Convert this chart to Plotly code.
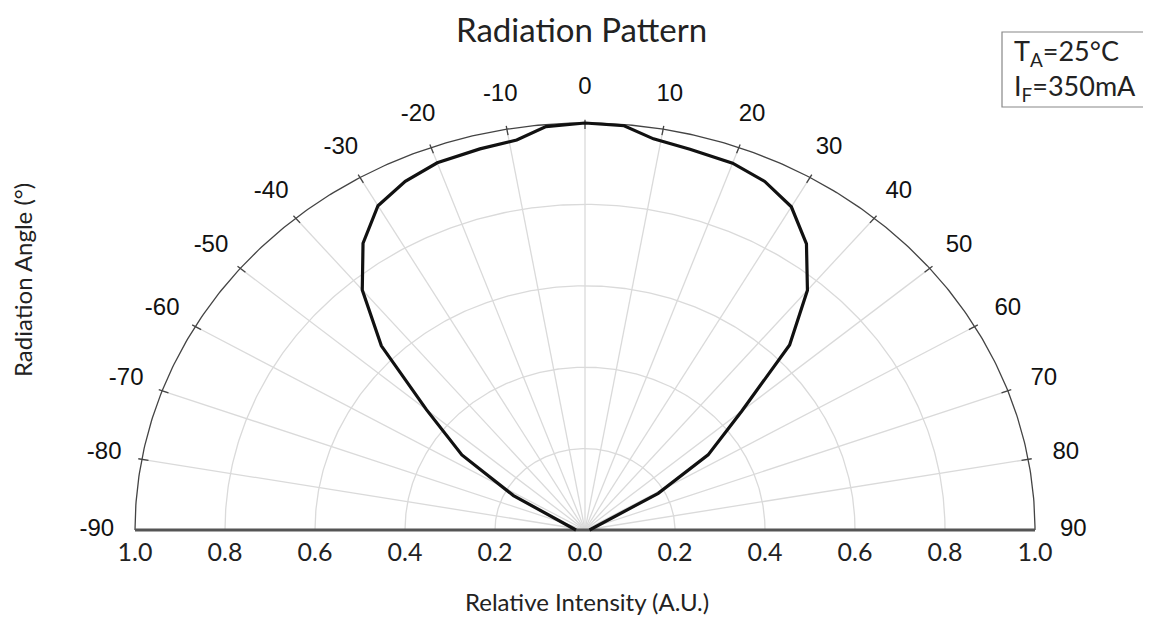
import numpy as np
import plotly.graph_objects as go

# ---------------- data ----------------
angles_deg = [-90, -62, -56, -50, -45, -40, -35, -30, -25, -20, -14, -9, -5, 0,
              5, 9, 14, 20, 25, 30, 35, 40, 45, 50, 56, 61, 90]
intensity = [0.02, 0.18, 0.33, 0.46, 0.64, 0.77, 0.86, 0.92, 0.945, 0.96, 0.965, 0.97, 0.995, 1.0,
             0.997, 0.973, 0.964, 0.959, 0.945, 0.917, 0.858, 0.769, 0.643, 0.455, 0.33, 0.186, 0.01]

angle_ticks = list(range(-90, 91, 10))
angle_tick_text = [str(a) for a in angle_ticks]
radial_grid = [0.2, 0.4, 0.6, 0.8]
x_tick_vals = [-1.0, -0.8, -0.6, -0.4, -0.2, 0.0, 0.2, 0.4, 0.6, 0.8, 1.0]
x_tick_text = ["1.0", "0.8", "0.6", "0.4", "0.2", "0.0", "0.2", "0.4", "0.6", "0.8", "1.0"]

title_text = "Radiation Pattern"
x_title = "Relative Intensity (A.U.)"
y_title = "Radiation Angle (°)"
cond_text = "T<sub>A</sub>=25°C<br>I<sub>F</sub>=350mA"

# ---------------- helpers ----------------
def pol(r, deg):
    t = np.radians(np.asarray(deg, dtype=float))
    r = np.asarray(r, dtype=float)
    return r * np.sin(t), r * np.cos(t)

OFF = 8  # page body margin
W, H = 1151 - OFF, 617 - OFF
cx, cy, rx, ry = 585.0 - OFF, 530.0 - OFF, 450.0, 407.0


def px(X):
    return (X - OFF) / W


def py(Y):
    return 1 - (Y - OFF) / H


fig = go.Figure()

GEO = "'Lato', 'Open Sans', sans-serif"
ARIAL = "'Liberation Sans', Arial, sans-serif"

# grid spokes
sx, sy = [], []
for a in range(-80, 81, 10):
    x, y = pol([0, 1], [a, a])
    sx += list(x) + [None]
    sy += list(y) + [None]
fig.add_trace(go.Scatter(x=sx, y=sy, mode="lines", line=dict(color="#dadada", width=1.3),
                         hoverinfo="skip", showlegend=False))

# grid arcs
arc_deg = np.linspace(-90, 90, 361)
gx, gy = [], []
for r in radial_grid:
    x, y = pol(np.full(arc_deg.size, r), arc_deg)
    gx += list(x) + [None]
    gy += list(y) + [None]
fig.add_trace(go.Scatter(x=gx, y=gy, mode="lines", line=dict(color="#dadada", width=1.3),
                         hoverinfo="skip", showlegend=False))

# outer arc
ox, oy = pol(np.ones(arc_deg.size), arc_deg)
fig.add_trace(go.Scatter(x=ox, y=oy, mode="lines", line=dict(color="#444444", width=1.3),
                         hoverinfo="skip", showlegend=False))

# ticks on outer arc
tx, ty = [], []
for a in range(-80, 81, 10):
    x, y = pol([0.985, 1.008], [a, a])
    tx += list(x) + [None]
    ty += list(y) + [None]
fig.add_trace(go.Scatter(x=tx, y=ty, mode="lines", line=dict(color="#444444", width=1.3),
                         hoverinfo="skip", showlegend=False))

# baseline
fig.add_trace(go.Scatter(x=[-1.0, 1.0], y=[0, 0], mode="lines",
                         line=dict(color="#555555", width=3),
                         hoverinfo="skip", showlegend=False))

# data curve
dx, dy = pol(intensity, angles_deg)
fig.add_trace(go.Scatter(x=dx, y=dy, mode="lines", line=dict(color="#111111", width=3.2),
                         showlegend=False))

# angle labels
lx, ly = pol(np.full(len(angle_ticks), 1.085), angle_ticks)
fig.add_trace(go.Scatter(x=lx, y=ly, mode="text", text=angle_tick_text,
                         textposition="middle center",
                         textfont=dict(family=ARIAL, size=24, color="#111111"),
                         hoverinfo="skip", showlegend=False, cliponaxis=False))

# intensity tick labels
fig.add_trace(go.Scatter(x=x_tick_vals, y=[-25 / ry] * len(x_tick_vals), mode="text",
                         text=x_tick_text, textposition="middle center",
                         textfont=dict(family=GEO, size=25, color="#222222"),
                         hoverinfo="skip", showlegend=False, cliponaxis=False))

fig.update_layout(
    width=W, height=H, autosize=False,
    margin=dict(l=0, r=0, t=0, b=0),
    paper_bgcolor="white", plot_bgcolor="white",
    xaxis=dict(range=[(0 - cx) / rx, (W - cx) / rx], visible=False, fixedrange=True),
    yaxis=dict(range=[(cy - H) / ry, cy / ry], visible=False, fixedrange=True),
    showlegend=False,
)

fig.add_annotation(x=px(582), y=py(29), xref="paper", yref="paper", text=title_text,
                   xanchor="center", yanchor="middle",
                   showarrow=False, font=dict(family=GEO, size=33, color="#222222"))
fig.add_annotation(x=px(587), y=py(601), xref="paper", yref="paper", text=x_title,
                   xanchor="center", yanchor="middle",
                   showarrow=False, font=dict(family=GEO, size=24, color="#222222"))
fig.add_annotation(x=px(22), y=py(280), xref="paper", yref="paper", text=y_title,
                   xanchor="center", yanchor="middle",
                   showarrow=False, textangle=-90, font=dict(family=GEO, size=24, color="#222222"))

fig.add_shape(type="rect", xref="paper", yref="paper",
              x0=px(1002), x1=px(1148), y0=py(107), y1=py(32),
              line=dict(color="#888888", width=1.2), fillcolor="white")
fig.add_annotation(x=px(1075), y=py(70), xref="paper", yref="paper", text=cond_text,
                   xanchor="center", yanchor="middle",
                   showarrow=False, align="left",
                   font=dict(family=GEO, size=27, color="#222222"))

fig.write_html("out.html")
